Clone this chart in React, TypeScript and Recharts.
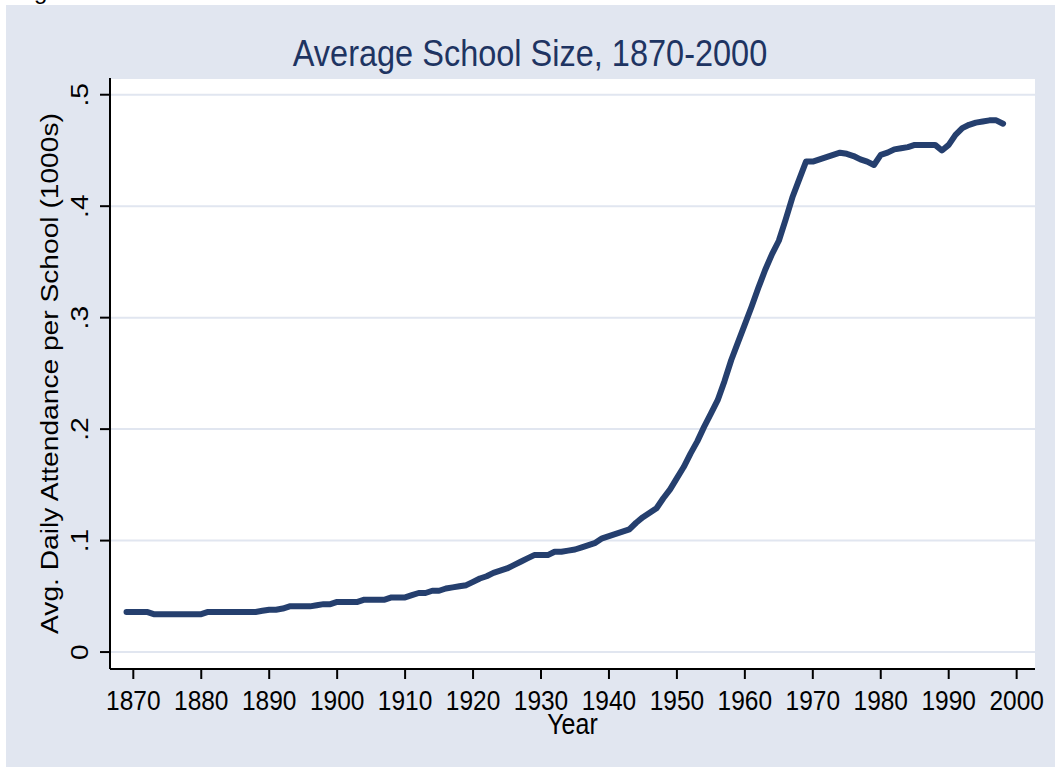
import { CartesianGrid, Line, LineChart, XAxis, YAxis } from "recharts";

// year of observation
const years = [
  1869, 1870, 1871, 1872, 1873, 1874, 1875, 1876, 1877, 1878,
  1879, 1880, 1881, 1882, 1883, 1884, 1885, 1886, 1887, 1888,
  1889, 1890, 1891, 1892, 1893, 1894, 1895, 1896, 1897, 1898,
  1899, 1900, 1901, 1902, 1903, 1904, 1905, 1906, 1907, 1908,
  1909, 1910, 1911, 1912, 1913, 1914, 1915, 1916, 1917, 1918,
  1919, 1920, 1921, 1922, 1923, 1924, 1925, 1926, 1927, 1928,
  1929, 1930, 1931, 1932, 1933, 1934, 1935, 1936, 1937, 1938,
  1939, 1940, 1941, 1942, 1943, 1944, 1945, 1946, 1947, 1948,
  1949, 1950, 1951, 1952, 1953, 1954, 1955, 1956, 1957, 1958,
  1959, 1960, 1961, 1962, 1963, 1964, 1965, 1966, 1967, 1968,
  1969, 1970, 1971, 1972, 1973, 1974, 1975, 1976, 1977, 1978,
  1979, 1980, 1981, 1982, 1983, 1984, 1985, 1986, 1987, 1988,
  1989, 1990, 1991, 1992, 1993, 1994, 1995, 1996, 1997, 1998,
];

// avg daily attendance per school, thousands
const attendance = [
  0.036, 0.036, 0.036, 0.036, 0.034, 0.034, 0.034, 0.034, 0.034, 0.034,
  0.034, 0.034, 0.036, 0.036, 0.036, 0.036, 0.036, 0.036, 0.036, 0.036,
  0.037, 0.038, 0.038, 0.039, 0.041, 0.041, 0.041, 0.041, 0.042, 0.043,
  0.043, 0.045, 0.045, 0.045, 0.045, 0.047, 0.047, 0.047, 0.047, 0.049,
  0.049, 0.049, 0.051, 0.053, 0.053, 0.055, 0.055, 0.057, 0.058, 0.059,
  0.06, 0.063, 0.066, 0.068, 0.071, 0.073, 0.075, 0.078, 0.081, 0.084,
  0.087, 0.087, 0.087, 0.09, 0.09, 0.091, 0.092, 0.094, 0.096, 0.098,
  0.102, 0.104, 0.106, 0.108, 0.11, 0.116, 0.121, 0.125, 0.129, 0.138,
  0.146, 0.156, 0.166, 0.178, 0.189, 0.202, 0.214, 0.226, 0.243, 0.262,
  0.278, 0.294, 0.31, 0.327, 0.343, 0.357, 0.369, 0.388, 0.408, 0.424,
  0.44, 0.44, 0.442, 0.444, 0.446, 0.448, 0.447, 0.445, 0.442, 0.44,
  0.437, 0.446, 0.448, 0.451, 0.452, 0.453, 0.455, 0.455, 0.455, 0.455,
  0.45, 0.455, 0.464, 0.47, 0.473, 0.475, 0.476, 0.477, 0.477, 0.474,
];

const xTicks = [1870, 1880, 1890, 1900, 1910, 1920, 1930, 1940, 1950, 1960, 1970, 1980, 1990, 2000];
const yTicks = [0, 0.1, 0.2, 0.3, 0.4, 0.5];
const yTickLabels = ["0", ".1", ".2", ".3", ".4", ".5"];

const data = years.map((year, i) => ({ year, value: attendance[i] }));

const FONT = '"Liberation Sans", Arial, sans-serif';
const STRETCH = 1.15; // text in the original is a bit taller than wide
const NAVY = "#253f6e";

const XTick = ({ x, y, payload }: { x?: number; y?: number; payload?: { value: number } }) => (
  <g transform={`translate(${x},${y}) scale(1,${STRETCH})`}>
    <text x={0} y={27} textAnchor="middle" fontSize={24.5} fontFamily={FONT} fill="#000">
      {payload?.value}
    </text>
  </g>
);

const YTick = ({ x, y, payload }: { x?: number; y?: number; payload?: { value: number } }) => {
  const idx = yTicks.indexOf(payload?.value ?? -1);
  return (
    <g transform={`translate(${x},${y}) scale(1,${STRETCH}) rotate(-90)`}>
      <text x={0} y={-12} textAnchor="middle" fontSize={24.5} fontFamily={FONT} fill="#000">
        {idx >= 0 ? yTickLabels[idx] : payload?.value}
      </text>
    </g>
  );
};

export default function App() {
  return (
    <div style={{ position: "absolute", left: 0, top: 0, width: 1055, height: 767, background: "#fff", overflow: "hidden" }}>
      <div style={{ position: "absolute", left: 6, top: 5, width: 1049, height: 762, background: "#e1e6f0" }} />
      <div style={{ position: "absolute", left: 0, top: 0 }}>
        <LineChart width={1055} height={767} data={data} margin={{ top: 78, right: 20, bottom: 38, left: 10 }}>
          <CartesianGrid vertical={false} fill="#fff" fillOpacity={1} stroke="#e1e6f0" strokeWidth={2} />
          <XAxis
            dataKey="year"
            type="number"
            domain={[1866.57, 2002.7]}
            ticks={xTicks}
            interval={0}
            allowDataOverflow
            height={60}
            tickSize={10}
            tickMargin={0}
            tick={<XTick />}
            axisLine={{ stroke: "#000", strokeWidth: 2 }}
            tickLine={{ stroke: "#000", strokeWidth: 2 }}
          />
          <YAxis
            type="number"
            domain={[-0.0152, 0.515]}
            ticks={yTicks}
            interval={0}
            allowDataOverflow
            width={100}
            tickSize={10}
            tickMargin={0}
            tick={<YTick />}
            axisLine={{ stroke: "#000", strokeWidth: 2 }}
            tickLine={{ stroke: "#000", strokeWidth: 2 }}
          />
          <Line
            type="linear"
            dataKey="value"
            stroke={NAVY}
            strokeWidth={6}
            strokeLinecap="round"
            strokeLinejoin="round"
            dot={false}
            activeDot={false}
            isAnimationActive={false}
          />
        </LineChart>
      </div>
      <svg width={1055} height={767} style={{ position: "absolute", left: 0, top: 0, pointerEvents: "none" }}>
        {/* cut-off glyph left over at the top edge */}
        <text x={34} y={-1} fontSize={24} fontFamily={FONT} fill="#000">g</text>
        <g transform={`translate(530,66) scale(1,${STRETCH})`}>
          <text x={0} y={0} textAnchor="middle" fontSize={32.5} fontFamily={FONT} fill="#1e3462">
            Average School Size, 1870-2000
          </text>
        </g>
        <g transform={`translate(572.5,734) scale(1,${STRETCH})`}>
          <text x={0} y={0} textAnchor="middle" fontSize={25} fontFamily={FONT} fill="#000">
            Year
          </text>
        </g>
        <g transform={`translate(58,373.5) scale(1,${STRETCH}) rotate(-90)`}>
          <text x={0} y={0} textAnchor="middle" fontSize={24.5} fontFamily={FONT} fill="#000">
            Avg. Daily Attendance per School (1000s)
          </text>
        </g>
      </svg>
    </div>
  );
}
